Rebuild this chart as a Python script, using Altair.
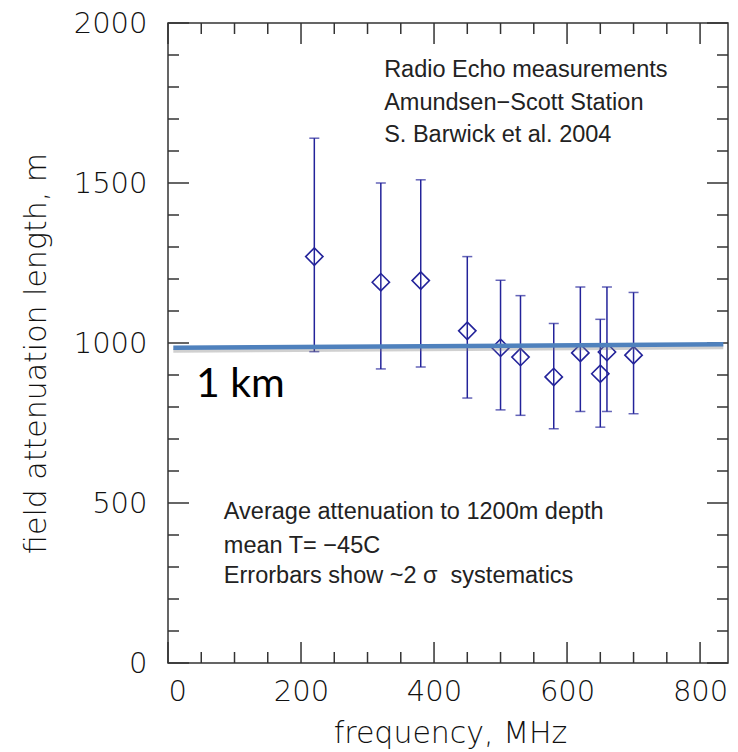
import altair as alt
import pandas as pd

# measurements
freq = [220, 320, 380, 450, 500, 530, 580, 620, 650, 660, 700]
atten = [1270, 1190, 1195, 1038, 985, 956, 894, 969, 904, 972, 962]
upper = [1640, 1500, 1510, 1270, 1196, 1148, 1061, 1175, 1074, 1175, 1158]
lower = [973, 919, 925, 828, 791, 774, 732, 786, 737, 786, 779]

# 1 km reference line
ref_x = [8, 835]
ref_y = [985, 996]

# tick values
x_major = [0, 200, 400, 600, 800]
x_minor = [50, 100, 150, 250, 300, 350, 450, 500, 550, 650, 700, 750]
y_major = [0, 500, 1000, 1500, 2000]
y_minor = [100, 200, 300, 400, 600, 700, 800, 900, 1100, 1200, 1300, 1400,
           1600, 1700, 1800, 1900]

# annotations
top_text = ["Radio Echo measurements", "Amundsen\u2212Scott Station", "S. Barwick et al. 2004"]
top_x = [325, 325, 325]
top_y = [1830, 1728, 1628]
bot_text = ["Average attenuation to 1200m depth", "mean T= \u221245C",
            "Errorbars show ~2 \u03c3\u00a0\u00a0systematics"]
bot_x = [84, 84, 84]
bot_y = [450, 345, 250]
km_text = ["1 km"]
km_x = [42]
km_y = [830]

W, H = 560, 640
XDOM = [0, 842]
YDOM = [0, 2000]
BAR = "#23239a"
AX = "#333333"
FONT = "DejaVu Sans"
LAB = "#111111"

xs = alt.Scale(domain=XDOM, nice=False, zero=False)
ys = alt.Scale(domain=YDOM, nice=False)

df = pd.DataFrame({"f": freq, "a": atten, "hi": upper, "lo": lower})

xaxis = alt.Axis(values=x_major, format="d", ticks=False, tickSize=0, domain=False, grid=False,
                 labelFont=FONT, labelFontSize=29, labelFontWeight=200, labelColor=LAB,
                 labelPadding=14, title="frequency, MHz", titleFont=FONT, titleFontSize=30,
                 titleFontWeight=200, titleColor=LAB, titleX=282, titleY=79,
                 titleBaseline="alphabetic", titleAlign="center")
yaxis = alt.Axis(values=y_major, format="d", ticks=False, tickSize=0, domain=False, grid=False,
                 labelFont=FONT, labelFontSize=29, labelFontWeight=200, labelColor=LAB,
                 labelPadding=21, title="field attenuation length, m", titleFont=FONT,
                 titleFontSize=30, titleFontWeight=200, titleColor=LAB, titleAngle=270,
                 titleX=-123, titleY=330, titleBaseline="alphabetic", titleAlign="center")


def X(field):
    return alt.X(field, scale=xs, axis=xaxis)


def Y(field):
    return alt.Y(field, scale=ys, axis=yaxis)


bars = alt.Chart(df).mark_rule(color=BAR, strokeWidth=1.5).encode(
    x=X("f:Q"), y=Y("lo:Q"), y2="hi:Q")
cap_lo = alt.Chart(df).mark_tick(color=BAR, orient="horizontal", size=10, thickness=1.5).encode(
    x=X("f:Q"), y=Y("lo:Q"))
cap_hi = alt.Chart(df).mark_tick(color=BAR, orient="horizontal", size=10, thickness=1.5).encode(
    x=X("f:Q"), y=Y("hi:Q"))
pts = alt.Chart(df).mark_point(shape="diamond", filled=False, size=300, strokeWidth=1.6,
                               color=BAR, opacity=1).encode(x=X("f:Q"), y=Y("a:Q"))

ref_df = pd.DataFrame({"x": ref_x, "y": ref_y})
shadow = alt.Chart(ref_df).mark_line(color="#777777", opacity=0.35, strokeWidth=4, yOffset=3).encode(
    x=X("x:Q"), y=Y("y:Q"))
ref = alt.Chart(ref_df).mark_line(color="#4f81bd", strokeWidth=4.5).encode(
    x=X("x:Q"), y=Y("y:Q"))


def tick_layer(vals, axis_ch, side, length):
    d = pd.DataFrame({"v": vals})
    m = alt.Chart(d).mark_rule(color=AX, strokeWidth=1.5)
    if axis_ch == "x":
        enc = dict(x=X("v:Q"))
        if side == "bottom":
            enc.update(y=alt.value(H), y2=alt.value(H - length))
        else:
            enc.update(y=alt.value(0), y2=alt.value(length))
    else:
        enc = dict(y=Y("v:Q"))
        if side == "left":
            enc.update(x=alt.value(0), x2=alt.value(length))
        else:
            enc.update(x=alt.value(W - length), x2=alt.value(W))
    return m.encode(**enc)


ticks = []
for side in ["bottom", "top"]:
    ticks.append(tick_layer(x_major, "x", side, 21))
    ticks.append(tick_layer(x_minor, "x", side, 11))
for side in ["left", "right"]:
    ticks.append(tick_layer(y_major, "y", side, 21))
    ticks.append(tick_layer(y_minor, "y", side, 11))


def text_layer(texts, xv, yv, font, size, color="#222222", weight="normal"):
    d = pd.DataFrame({"t": texts, "x": xv, "y": yv})
    return alt.Chart(d).mark_text(align="left", baseline="alphabetic", font=font,
                                  fontSize=size, color=color, fontWeight=weight).encode(
        x=X("x:Q"), y=Y("y:Q"), text="t:N")


t_top = text_layer(top_text, top_x, top_y, "Liberation Sans", 23.5)
t_bot = text_layer(bot_text, bot_x, bot_y, "Liberation Sans", 23.5)
t_km = text_layer(km_text, km_x, km_y, "Lato", 41, color="#000000")

chart = alt.layer(bars, cap_lo, cap_hi, pts, *ticks, shadow, ref, t_top, t_bot, t_km).properties(
    width=W, height=H,
    background="white",
    autosize=alt.AutoSizeParams(type="none"),
    padding={"left": 160, "top": 15, "right": 2, "bottom": 87},
).configure_view(stroke=AX, strokeWidth=1.5)

chart.save("out.html", embed_options={"renderer": "svg", "actions": False})
